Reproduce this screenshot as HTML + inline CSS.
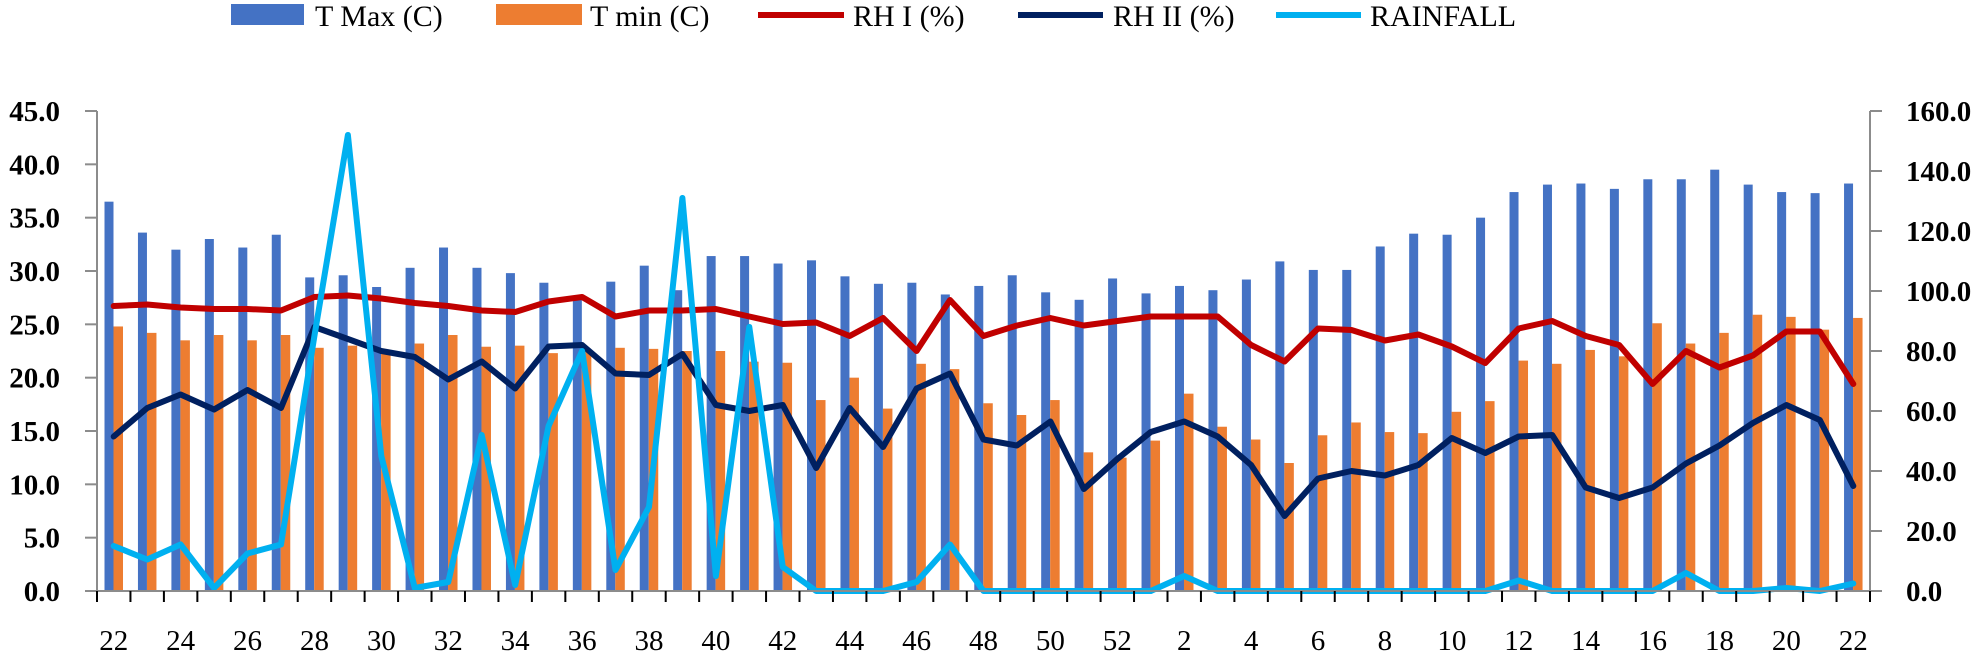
<!DOCTYPE html><html><head><meta charset="utf-8"><style>
html,body{margin:0;padding:0;background:#fff;}
svg text{font-family:"Liberation Serif",serif;}
</style></head><body>
<svg id="s" width="1984" height="653" xmlns="http://www.w3.org/2000/svg"></svg>
<script>
const tmax=[36.5,33.6,32.0,33.0,32.2,33.4,29.4,29.6,28.5,30.3,32.2,30.3,29.8,28.9,27.5,29.0,30.5,28.2,31.4,31.4,30.7,31.0,29.5,28.8,28.9,27.8,28.6,29.6,28.0,27.3,29.3,27.9,28.6,28.2,29.2,30.9,30.1,30.1,32.3,33.5,33.4,35.0,37.4,38.1,38.2,37.7,38.6,38.6,39.5,38.1,37.4,37.3,38.2];
const tmin=[24.8,24.2,23.5,24.0,23.5,24.0,22.8,23.0,22.5,23.2,24.0,22.9,23.0,22.3,22.5,22.8,22.7,22.5,22.5,21.5,21.4,17.9,20.0,17.1,21.3,20.8,17.6,16.5,17.9,13.0,12.5,14.1,18.5,15.4,14.2,12.0,14.6,15.8,14.9,14.8,16.8,17.8,21.6,21.3,22.6,22.0,25.1,23.2,24.2,25.9,25.7,24.5,25.6];
const rh1=[95,95.5,94.5,94,94,93.5,98,98.5,97.5,96,95,93.5,93,96.5,98,91.5,93.5,93.5,94,91.5,89,89.5,85,91,80,97,85,88.5,91,88.5,90,91.5,91.5,91.5,82,76.5,87.5,87,83.5,85.5,81.5,76,87.5,90,85,82,69,80,74.5,78.5,86.5,86.5,69];
const rh2=[51.5,61,65.5,60.5,67,61,88,84,80,78,70.5,76.5,67.5,81.5,82,72.5,72,79,62,60,62,41,61,48,67.5,72.5,50.5,48.5,56.5,34,44,53,56.5,51.5,42,25,37.5,40,38.5,42,51,46,51.5,52,34.5,31,34.5,42.5,48.5,56,62,57,35];
const rain=[15,10.5,15.5,1,12.5,15.5,85,152,45,1,3,52,2,55,80,7,28,131,5,88,8,0,0,0,3,15.5,0,0,0,0,0,0,5,0,0,0,0,0,0,0,0,0,3.5,0,0,0,0,6,0,0,1,0,2.5];
const L=97,R=1870,T=111,B=591,n=53,cw=(R-L)/n;
const yl=v=>B-v*(B-T)/45, yr=v=>B-v*(B-T)/160, cx=i=>L+cw*(i+0.5);
let h='';
for(let i=0;i<n;i++){const x0=L+cw*i;
h+=`<rect x="${x0+7.5}" y="${yl(tmax[i])}" width="9" height="${B-yl(tmax[i])}" fill="#4472C4"/>`;
h+=`<rect x="${x0+16.5}" y="${yl(tmin[i])}" width="9.5" height="${B-yl(tmin[i])}" fill="#ED7D31"/>`;}
const pl=(d,c)=>`<polyline fill="none" stroke="${c}" stroke-width="6" stroke-linejoin="round" stroke-linecap="round" points="${d.map((v,i)=>cx(i).toFixed(1)+','+yr(v).toFixed(1)).join(' ')}"/>`;
h+=pl(rh1,'#C00000')+pl(rh2,'#002060')+pl(rain,'#00B0F0');
// axes
h+=`<g stroke="#8c8c8c" stroke-width="2" fill="none"><line x1="${L}" y1="${T}" x2="${L}" y2="${B}"/><line x1="${R}" y1="${T}" x2="${R}" y2="${B}"/><line x1="${L}" y1="${B}" x2="${R}" y2="${B}"/>`;
for(let k=0;k<=9;k++){const y=yl(k*5);h+=`<line x1="${L-12}" y1="${y}" x2="${L}" y2="${y}"/>`;}
for(let k=0;k<=8;k++){const y=yr(k*20);h+=`<line x1="${R}" y1="${y}" x2="${R+12}" y2="${y}"/>`;}
h+='</g><g stroke="#000" stroke-width="2">';
for(let i=0;i<=n;i++){const x=L+cw*i;h+=`<line x1="${x}" y1="${B}" x2="${x}" y2="${B+11}"/>`;}
h+='</g>';
for(let k=0;k<=9;k++)h+=`<text x="60" y="${yl(k*5)+10}" text-anchor="end" font-size="29" font-weight="bold">${(k*5).toFixed(1)}</text>`;
for(let k=0;k<=8;k++)h+=`<text x="1906" y="${yr(k*20)+10}" font-size="29" font-weight="bold">${(k*20).toFixed(1)}</text>`;
for(let i=0;i<n;i+=2){const w=i<31?22+i:i-30;h+=`<text x="${cx(i)}" y="650" text-anchor="middle" font-size="29">${w}</text>`;}
// legend
h+=`<rect x="231" y="4" width="73" height="21" fill="#4472C4"/><text x="315" y="26" font-size="30">T Max (C)</text>`;
h+=`<rect x="496" y="4" width="86" height="21" fill="#ED7D31"/><text x="590" y="26" font-size="30">T min (C)</text>`;
h+=`<line x1="758" y1="15" x2="844" y2="15" stroke="#C00000" stroke-width="6"/><text x="853" y="26" font-size="30">RH I (%)</text>`;
h+=`<line x1="1018" y1="15" x2="1103" y2="15" stroke="#002060" stroke-width="6"/><text x="1113" y="26" font-size="30">RH II (%)</text>`;
h+=`<line x1="1276" y1="15" x2="1361" y2="15" stroke="#00B0F0" stroke-width="6"/><text x="1370" y="26" font-size="30">RAINFALL</text>`;
document.getElementById('s').innerHTML=h;
</script>
</body></html>
